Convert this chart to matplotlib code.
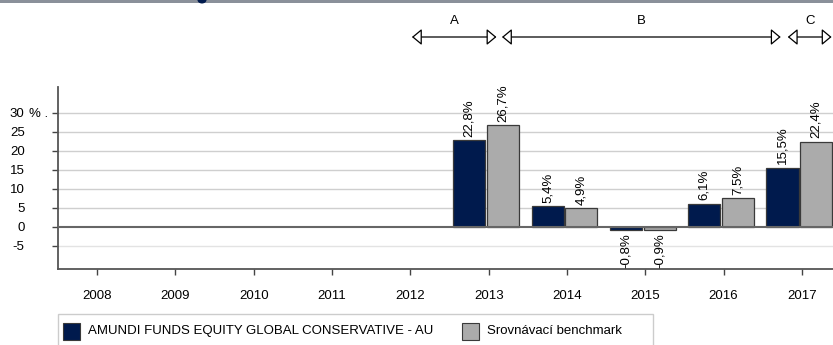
import numpy as np
import matplotlib
matplotlib.use("Agg")
import matplotlib.pyplot as plt
from matplotlib.patches import Rectangle, Ellipse

plt.rcParams['font.family'] = ['Liberation Sans', 'DejaVu Sans']
plt.rcParams['font.size'] = 9.5

# roční výkonnost fondu a benchmarku (%)
years = [2008, 2009, 2010, 2011, 2012, 2013, 2014, 2015, 2016, 2017]
fund = [None, None, None, None, None, 22.8, 5.4, -0.8, 6.1, 15.5]
bench = [None, None, None, None, None, 26.7, 4.9, -0.9, 7.5, 22.4]
fund_name = "AMUNDI FUNDS EQUITY GLOBAL CONSERVATIVE - AU"
bench_name = "Srovnávací benchmark"
y_ticks = [-5, 0, 5, 10, 15, 20, 25, 30]

# období A, B, C (od, do) na ose let
periods = [("A", 2012.02, 2013.10), ("B", 2013.17, 2016.73), ("C", 2016.82, 2017.38)]

FUND_C = "#001a4d"
BENCH_C = "#ababab"
EDGE_C = "#3a3a3a"
FS = 9.5

W, H = 833, 345
fig = plt.figure(figsize=(W / 100, H / 100), dpi=100)
ax = fig.add_axes([58 / W, (H - 269) / H, (841 - 58) / W, (269 - 87) / H])

bw = 0.41
for yr, f, b in zip(years, fund, bench):
    if f is None:
        continue
    for val, off, col in ((f, -0.247, FUND_C), (b, 0.183, BENCH_C)):
        ax.bar(yr + off, val, width=bw, color=col, edgecolor=EDGE_C, linewidth=0.9, zorder=3)
        lbl = ("%.1f%%" % val).replace(".", ",")
        if val >= 0:
            ax.annotate(lbl, (yr + off, val), xytext=(0, 2.5), textcoords="offset points",
                        rotation=90, ha="center", va="bottom", fontsize=FS)
        else:
            ax.annotate(lbl, (yr + off, val), xytext=(0, -2.5), textcoords="offset points",
                        rotation=90, ha="center", va="top", fontsize=FS)

ax.set_xlim(2007.5, 2017.5)
ax.set_ylim(-11.13, 36.76)
ax.set_xticks(years)
ax.set_xticklabels([str(y) for y in years])
ax.set_yticks(y_ticks)
ax.set_yticklabels([str(t) for t in y_ticks])
ax.tick_params(axis="y", length=4, width=1, color="#444444", pad=20, labelsize=FS)
ax.tick_params(axis="x", length=4, width=1, color="#444444", pad=11, labelsize=FS)

for t in y_ticks:
    if t == 0:
        continue
    ax.axhline(t, color="#e3e3e3" if t < 0 else "#cfcfcf", lw=1, zorder=1)
ax.axhline(0, color="#666666", lw=1.5, zorder=4)

for s in ("top", "right"):
    ax.spines[s].set_visible(False)
for s in ("left", "bottom"):
    ax.spines[s].set_color("#555555")
    ax.spines[s].set_linewidth(1.3)

# jednotka u nejvyšší hodnoty osy
ax.annotate("% .", (0, 30), xycoords=("axes fraction", "data"),
            xytext=(29 - 58, 0), textcoords="offset pixels",
            ha="left", va="center_baseline", fontsize=FS, annotation_clip=False)

# šipky období nad grafem
trans = ax.get_xaxis_transform()
y_arrow = (269 - 37) / (269 - 87)
y_text = (269 - 21) / (269 - 87)
for name, x0, x1 in periods:
    ax.annotate("", xy=(x1, y_arrow), xytext=(x0, y_arrow), xycoords=trans,
                annotation_clip=False,
                arrowprops=dict(arrowstyle="<|-|>,head_length=0.6,head_width=0.5",
                                fc="white", ec="black", lw=0.9,
                                shrinkA=0, shrinkB=0, mutation_scale=10))
    ax.text((x0 + x1) / 2, y_text, name, transform=trans, ha="center", va="center",
            fontsize=FS, clip_on=False)

# legenda
fig.add_artist(Rectangle((58 / W, -0.05), (653 - 58) / W, (H - 314) / H + 0.05,
                         transform=fig.transFigure, fc="white", ec="#cccccc", lw=1))
fig.add_artist(Rectangle((63 / W, (H - 340) / H), 17 / W, 17 / H,
                         transform=fig.transFigure, fc=FUND_C, ec=EDGE_C, lw=0.8))
fig.text(88 / W, (H - 331) / H, fund_name, ha="left", va="center", fontsize=FS)
fig.add_artist(Rectangle((462 / W, (H - 340) / H), 17 / W, 17 / H,
                         transform=fig.transFigure, fc=BENCH_C, ec=EDGE_C, lw=0.8))
fig.text(487 / W, (H - 331) / H, bench_name, ha="left", va="center", fontsize=FS)

# horní lišta
fig.add_artist(Rectangle((0, 1 - 3 / H), 1, 3 / H, transform=fig.transFigure,
                         fc="#8a909a", ec="none"))
fig.add_artist(Ellipse((202 / W, 1), 9 / W, 7 / H, transform=fig.transFigure,
                       fc=FUND_C, ec="none"))

fig.savefig("out.png", dpi=100)
